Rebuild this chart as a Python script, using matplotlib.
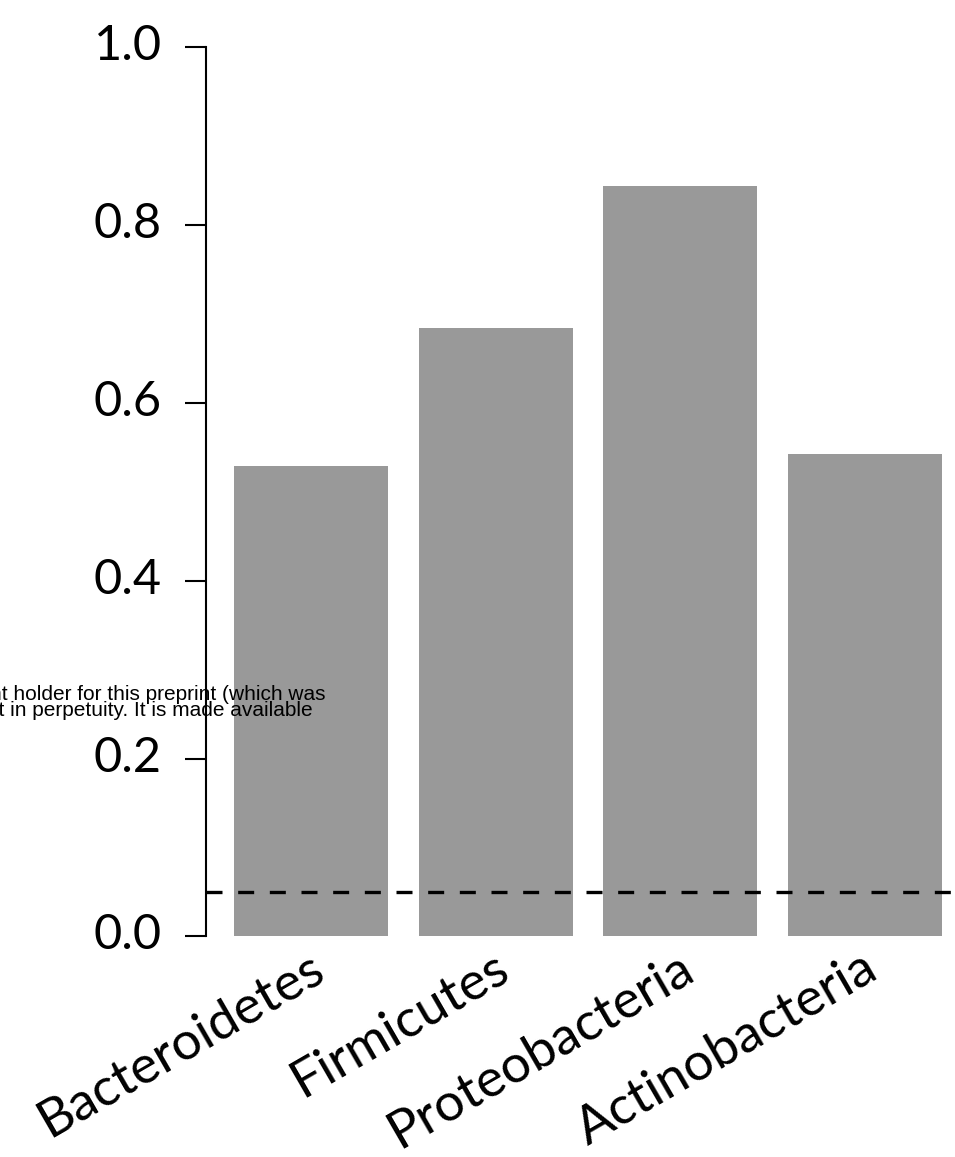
import matplotlib
matplotlib.use("Agg")
import matplotlib.pyplot as plt
from matplotlib.transforms import ScaledTranslation

# data
phyla = ["Bacteroidetes", "Firmicutes", "Proteobacteria", "Actinobacteria"]
fractions = [0.529, 0.684, 0.844, 0.543]
cutoff = 0.05
y_ticks = [0.0, 0.2, 0.4, 0.6, 0.8, 1.0]

watermark = [
    "The copyright holder for this preprint (which was",
    "who has granted bioRxiv a license to display the preprint in perpetuity. It is made available",
]

fig = plt.figure(figsize=(9.55, 11.57), dpi=100)
# R-style barplot geometry: bars of width 1 with 0.2 spacing
ax = fig.add_axes([0.2154, 0.1906, 0.8006, 0.7685])
ax.patch.set_visible(False)

centers = [0.7 + 1.2 * i for i in range(len(phyla))]
ax.bar(centers, fractions, width=1.0, color="#999999", zorder=1)
ax.axhline(cutoff, color="black", lw=2.4, ls=(0, (4.8, 4.7)), zorder=2)

ax.set_xlim(0.016, 4.984)
ax.set_ylim(0, 1)

for side in ["top", "right", "bottom"]:
    ax.spines[side].set_visible(False)
ax.spines["left"].set_linewidth(1.5)
ax.spines["left"].set_zorder(3)

ax.set_yticks(y_ticks)
ax.set_yticklabels([f"{v:.1f}" for v in y_ticks], fontfamily="Lato", fontsize=35)
ax.tick_params(axis="y", length=15, width=1.5, pad=16.5)
up = ScaledTranslation(0, 5 / 100, fig.dpi_scale_trans)
for lab in ax.get_yticklabels():
    lab.set_transform(lab.get_transform() + up)

ax.set_xticks(centers)
ax.set_xticklabels(phyla, fontfamily="Lato", fontsize=38, rotation=30,
                   ha="right", va="top", rotation_mode="anchor")
ax.tick_params(axis="x", length=0, pad=0.5)
shift = ScaledTranslation(-3 / 100, -7 / 100, fig.dpi_scale_trans)
for lab in ax.get_xticklabels():
    lab.set_transform(lab.get_transform() + shift)

# clipped preprint watermark on the left
fig.text(325 / 955, 1 - 700.5 / 1157, watermark[0], ha="right", va="baseline",
         fontfamily="Liberation Sans", fontsize=15, color="black", zorder=5)
fig.text(313 / 955, 1 - 716.5 / 1157, watermark[1], ha="right", va="baseline",
         fontfamily="Liberation Sans", fontsize=15, color="black", zorder=5)

fig.savefig("out.png", dpi=100)
